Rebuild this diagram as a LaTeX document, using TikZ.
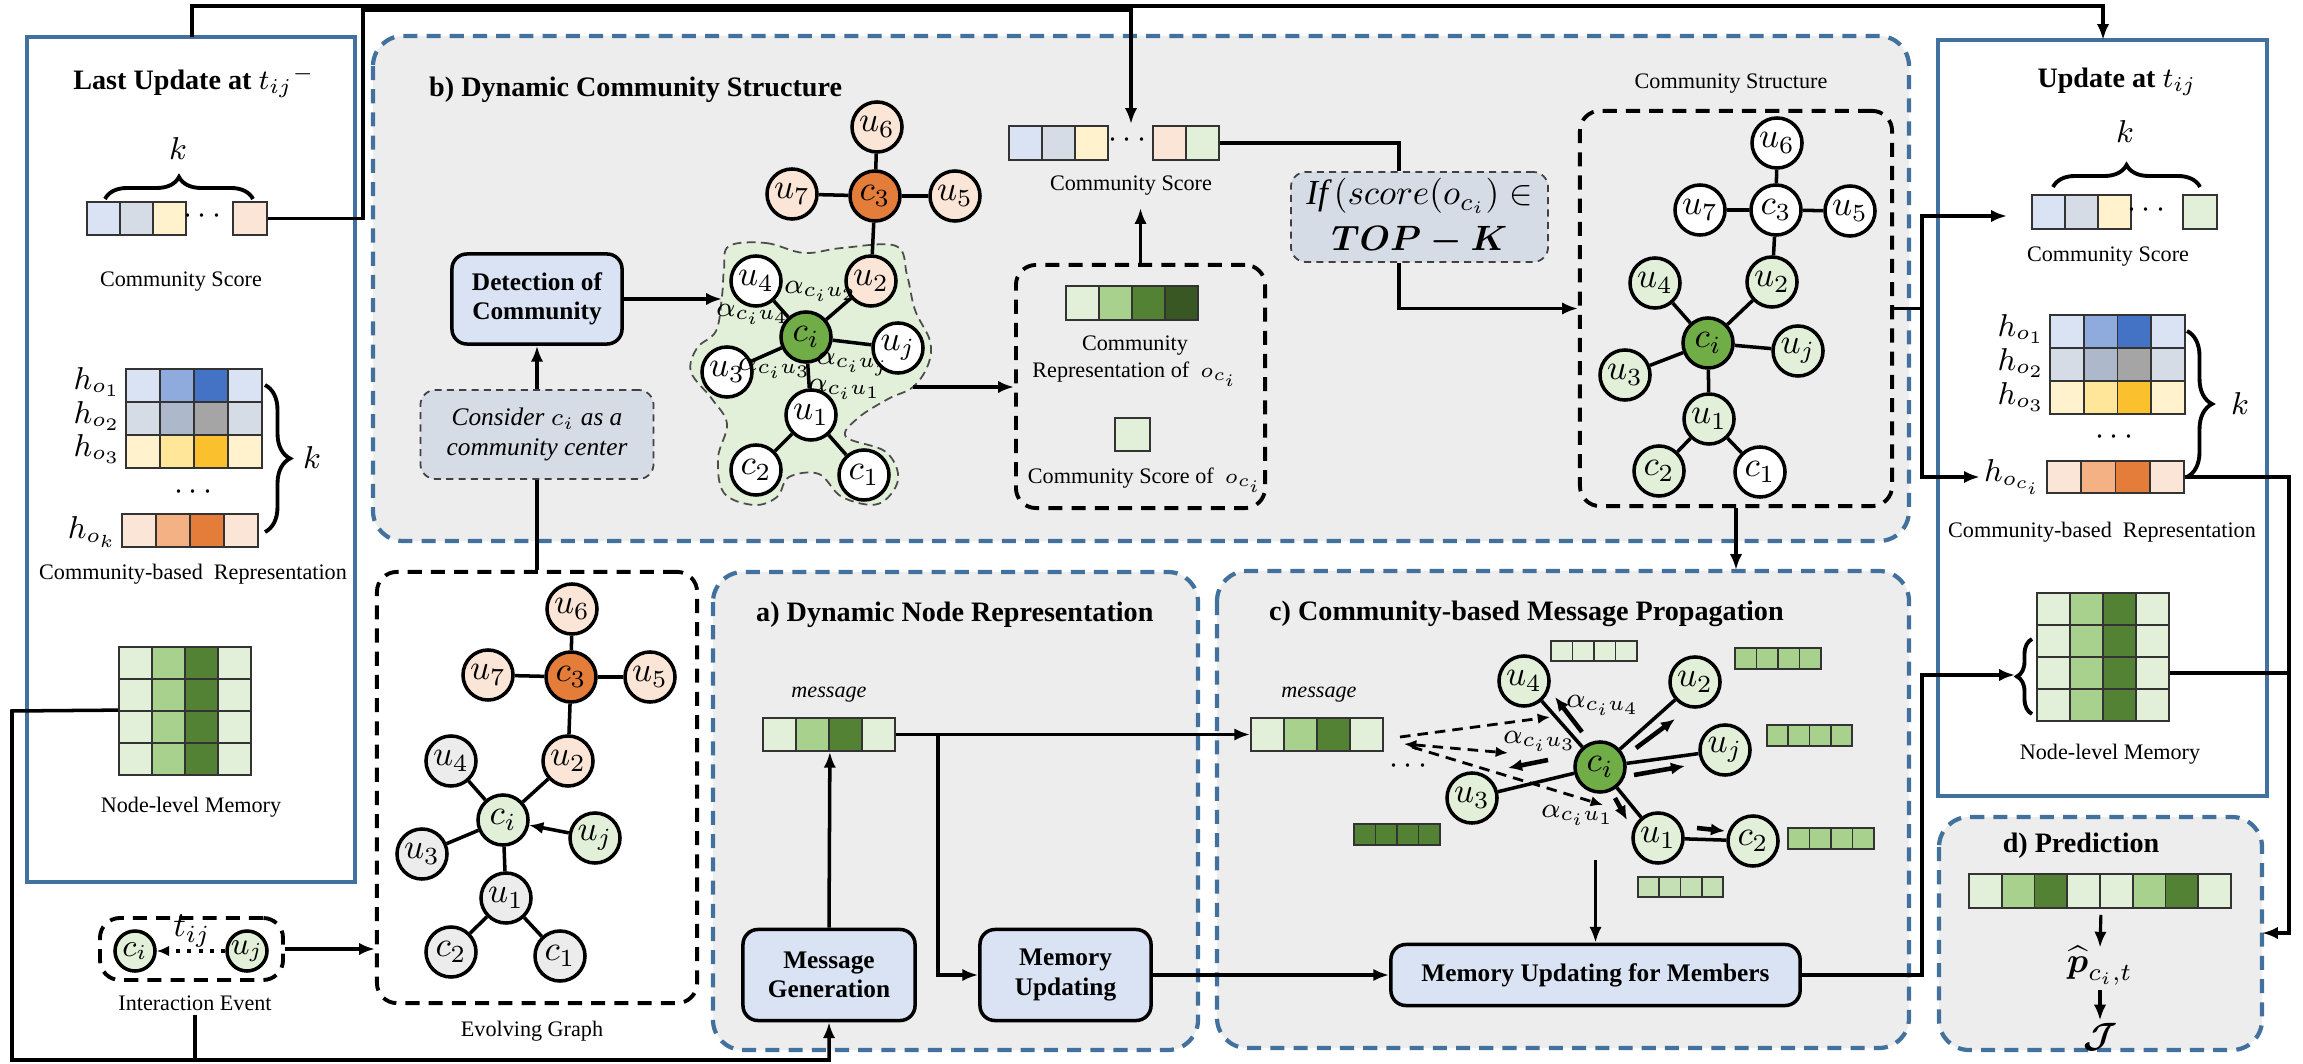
\documentclass[tikz,border=0pt]{standalone}
\usepackage{amsmath}
\usepackage{fontspec}
\setmainfont{Liberation Serif}
\usetikzlibrary{arrows.meta,decorations.pathreplacing,calc}
\pgfdeclarelayer{bg}\pgfdeclarelayer{mid}\pgfsetlayers{bg,mid,main}
\definecolor{pblue}{RGB}{65,113,156}
\definecolor{sgray}{RGB}{237,237,237}
\definecolor{lblue}{RGB}{218,227,243}
\definecolor{gblue}{RGB}{214,220,229}
\definecolor{ylw}{RGB}{255,242,204}
\definecolor{peach}{RGB}{251,229,214}
\definecolor{lgreen}{RGB}{226,240,217}
\definecolor{mgreen}{RGB}{169,209,142}
\definecolor{dgreen}{RGB}{84,130,53}
\definecolor{vdgreen}{RGB}{56,87,35}
\definecolor{blueB}{RGB}{143,170,220}
\definecolor{blueC}{RGB}{68,114,196}
\definecolor{grayB}{RGB}{173,185,202}
\definecolor{grayC}{RGB}{165,165,165}
\definecolor{ylwB}{RGB}{255,230,153}
\definecolor{ylwC}{RGB}{250,192,46}
\definecolor{orB}{RGB}{244,177,131}
\definecolor{orC}{RGB}{228,125,58}
\definecolor{cgreen}{RGB}{112,173,71}
\definecolor{ngray}{RGB}{236,236,236}
\definecolor{pgreen}{RGB}{197,224,180}
\newcommand\ttlfont{\fontsize{8}{9.6}\selectfont\bfseries}
\newcommand\lblfont{\fontsize{6.3}{7.6}\selectfont}
\newcommand\boxfont{\fontsize{7.2}{8.3}\selectfont\bfseries}
\newcommand\gnfont{\fontsize{10}{12}\selectfont}
\newcommand\alfont{\fontsize{8}{9}\selectfont}
\newcommand\hfont{\fontsize{9}{10}\selectfont}
\newcommand\cellbar[6]{\foreach \cc [count=\ii] in {#6}{\node[cell,minimum width=#4*0.01cm,minimum height=#5*0.01cm,fill=\cc] (#1-\ii) at ({#2+(\ii-0.5)*#4},{#3+0.5*#5}) {};}}
\begin{document}
\begin{tikzpicture}[x=0.01cm,y=-0.01cm,
  panel/.style={draw=pblue,line width=1.1pt,fill=white},
  sect/.style={draw=pblue,line width=1.2pt,dash pattern=on 4pt off 2.6pt,fill=sgray,rounded corners=0.3cm},
  dbox/.style={draw,line width=1.1pt,dash pattern=on 4pt off 2.6pt,rounded corners=0.2cm,inner sep=0pt},
  gbox/.style={draw=black!75,line width=0.5pt,dash pattern=on 2pt off 1.5pt,fill=gblue,rounded corners=0.15cm,align=center,inner sep=0pt},
  sbox/.style={draw,line width=1pt,fill=lblue,rounded corners=0.15cm,align=center,font=\boxfont,inner sep=0pt},
  cell/.style={draw=black!80,line width=0.5pt,inner sep=0pt},
  gn/.style={circle,draw,line width=1pt,minimum size=0.5cm,inner sep=0pt,font=\gnfont},
  edge/.style={line width=1pt},
  conn/.style={line width=1pt},
  arr/.style={conn,-{Latex[length=4.5pt,width=3.5pt]}},
  sarr/.style={line width=1.3pt,-{Latex[length=4pt,width=3.5pt]}},
  dsh/.style={line width=0.8pt,dash pattern=on 3pt off 2pt,-{Latex[length=3.5pt,width=3pt]}},
  txt/.style={inner sep=1pt,font=\lblfont},
  ttl/.style={inner sep=1pt,font=\ttlfont},
  al/.style={inner sep=0pt,font=\alfont},
  hl/.style={inner sep=1pt,font=\hfont},
  brc/.style={decorate,decoration={brace,amplitude=#1},line width=1.1pt}]
\useasboundingbox (0,0) rectangle (2303,1064);
\begin{pgfonlayer}{bg}
 \fill[white] (0,0) rectangle (2303,1064);
 \draw[panel] (27,37) rectangle (355,882);
 \draw[panel] (1938,40) rectangle (2267,796);
 \draw[sect] (373,36) rectangle (1909,541);
 \draw[sect] (713,572) rectangle (1198,1050);
 \draw[sect] (1217,571) rectangle (1909,1048);
 \draw[sect] (1939,817) rectangle (2262,1050);
\end{pgfonlayer}
\begin{pgfonlayer}{mid}
 \draw[dash pattern=on 2.5pt off 1.5pt,line width=0.5pt,draw=black!70,fill=lgreen]
  plot[smooth cycle,tension=0.6] coordinates {(729,246) (766,243) (804,253) (842,248) (896,246) (907,275) (915,310) (930,341) (928,365) (913,387) (888,399) (858,418) (846,437) (886,452) (898,480) (878,504) (842,497) (819,474) (789,477) (777,497) (754,505) (724,493) (718,458) (727,424) (712,399) (691,372) (697,348) (716,331) (722,296) (724,269)};
\end{pgfonlayer}

% ---------- left panel ----------
\node[ttl] (lttl) at (194,82) {Last Update at ${t_{ij}}^{-}$};
\node[hl] (lk1) at (178,149) {$k$};
\draw[brc=0.22cm] (105,199) -- (253,199);
\cellbar{ls}{87}{202}{33}{33}{lblue,gblue,ylw}
\node[hl] (ldots1) at (205,216) {$\cdots$};
\cellbar{lsl}{233}{202}{34}{33}{peach}
\node[txt] (lcs) at (181,282) {Community Score};
\cellbar{lh1}{126}{369}{34}{33}{lblue,blueB,blueC,lblue}
\cellbar{lh2}{126}{402}{34}{33}{gblue,grayB,grayC,gblue}
\cellbar{lh3}{126}{435}{34}{33}{ylw,ylwB,ylwC,ylw}
\node[hl] (ldots2) at (196,492) {$\cdots$};
\cellbar{lhk}{122}{514}{34}{33}{peach,orB,orC,peach}
\node[hl,anchor=east] (lhl1) at (125,382) {$h_{o_1}$};
\node[hl,anchor=east] (lhl2) at (125,416) {$h_{o_2}$};
\node[hl,anchor=east] (lhl3) at (125,449) {$h_{o_3}$};
\node[hl,anchor=east] (lhlk) at (121,532) {$h_{o_k}$};
\draw[brc=0.25cm] (265,385) -- (265,532);
\node[hl] (lk2) at (312,458) {$k$};
\node[txt] (lcbr) at (193,574) {Community-based\ \ Representation};
\cellbar{lm1}{119}{647}{33}{32}{lgreen,mgreen,dgreen,lgreen}
\cellbar{lm2}{119}{679}{33}{32}{lgreen,mgreen,dgreen,lgreen}
\cellbar{lm3}{119}{711}{33}{32}{lgreen,mgreen,dgreen,lgreen}
\cellbar{lm4}{119}{743}{33}{32}{lgreen,mgreen,dgreen,lgreen}
\node[txt] (lnlm) at (191,807) {Node-level Memory};

% ---------- interaction event ----------
\node[dbox,minimum width=1.83cm,minimum height=0.62cm] (iebox) at (191.5,949) {};
\node[gn,minimum size=0.4cm,fill=lgreen,font=\fontsize{9}{10}\selectfont] (iec) at (135,951) {$c_i$};
\node[gn,minimum size=0.4cm,fill=lgreen,font=\fontsize{9}{10}\selectfont] (ieu) at (247,951) {$u_j$};
\draw[line width=1.2pt,dotted,-{Latex[length=3.5pt,width=3pt]}] (ieu) -- (iec);
\node[inner sep=0pt,font=\gnfont] (iet) at (192,931) {$t_{ij}$};
\node[txt] (iel) at (195,1003) {Interaction Event};

% ---------- evolving graph ----------
\node[dbox,minimum width=3.2cm,minimum height=4.31cm] (evbox) at (537,787.5) {};
\node[gn,fill=peach] (eu6) at (572,609) {$u_6$};
\node[gn,fill=orC] (ec3) at (571,677) {$c_3$};
\node[gn,fill=peach] (eu7) at (488,675) {$u_7$};
\node[gn,fill=peach] (eu5) at (650,677) {$u_5$};
\node[gn,fill=peach] (eu2) at (568,761) {$u_2$};
\node[gn,fill=ngray] (eu4) at (451,761) {$u_4$};
\node[gn,fill=lgreen] (eci) at (503,820) {$c_i$};
\node[gn,fill=lgreen] (euj) at (595,838) {$u_j$};
\node[gn,fill=ngray] (eu3) at (422,854) {$u_3$};
\node[gn,fill=ngray] (eu1) at (506,898) {$u_1$};
\node[gn,fill=ngray] (ec2) at (451,952) {$c_2$};
\node[gn,fill=ngray] (ec1) at (560,956) {$c_1$};
\draw[edge] (ec3)--(eu6) (ec3)--(eu7) (ec3)--(eu5) (ec3)--(eu2) (eci)--(eu2) (eci)--(eu4) (eci)--(eu3) (eci)--(eu1) (eu1)--(ec2) (eu1)--(ec1);
\draw[edge,-{Latex[length=4pt,width=3.5pt]}] (euj)--(eci);
\node[txt] (evl) at (532,1031) {Evolving Graph};

% ---------- b) ----------
\node[ttl,anchor=west] (bttl) at (425,90) {b) Dynamic Community Structure};
\node[sbox,minimum width=1.7cm,minimum height=0.9cm] (det) at (537,299) {Detection of\\Community};
\node[gbox,minimum width=2.33cm,minimum height=0.89cm,font={\boxfont\mdseries\itshape}] (cons) at (537,434.5) {Consider $c_i$ as a\\community center};
\node[gn,fill=peach] (bu6) at (877,127) {$u_6$};
\node[gn,fill=orC] (bc3) at (875,196) {$c_3$};
\node[gn,fill=peach] (bu7) at (792,194) {$u_7$};
\node[gn,fill=peach] (bu5) at (955,196) {$u_5$};
\node[gn,fill=peach] (bu2) at (871,281) {$u_2$};
\node[gn,fill=white] (bu4) at (756,281) {$u_4$};
\node[gn,fill=cgreen] (bci) at (806,337) {$c_i$};
\node[gn,fill=white] (buj) at (898,348) {$u_j$};
\node[gn,fill=white] (bu3) at (727,372) {$u_3$};
\node[gn,fill=white] (bu1) at (811,415) {$u_1$};
\node[gn,fill=white] (bc2) at (756,470) {$c_2$};
\node[gn,fill=white] (bc1) at (864,475) {$c_1$};
\draw[edge] (bc3)--(bu6) (bc3)--(bu7) (bc3)--(bu5) (bc3)--(bu2) (bci)--(bu2) (bci)--(bu4) (bci)--(bu3) (bci)--(buj) (bci)--(bu1) (bu1)--(bc2) (bu1)--(bc1);
\node[al] (ba2) at (821,291) {$\alpha_{c_iu_2}$};
\node[al] (ba4) at (753,314) {$\alpha_{c_iu_4}$};
\node[al] (ba3) at (775,368) {$\alpha_{c_iu_3}$};
\node[al] (baj) at (853,364) {$\alpha_{c_iu_j}$};
\node[al] (ba1) at (845,389) {$\alpha_{c_iu_1}$};
\coordinate (blobL) at (722,299);
\coordinate (blobR) at (913,387);

\cellbar{bs}{1009}{126}{33}{34}{lblue,gblue,ylw}
\node[hl] (bdots) at (1130,140) {$\cdots$};
\cellbar{bsr}{1153}{126}{33}{34}{peach,lgreen}
\coordinate (bsin) at (1131,124);
\node[txt] (bcsl) at (1131,186) {Community Score};
\node[dbox,minimum width=2.49cm,minimum height=2.43cm] (crbox) at (1140.5,386.5) {};
\cellbar{crb}{1066}{286}{33}{34}{lgreen,mgreen,dgreen,vdgreen}
\node[txt,align=center] (crl) at (1135,361) {Community\\Representation of\ \ $o_{c_i}$};
\cellbar{crs}{1115}{418}{35}{33}{lgreen}
\node[txt] (crsl) at (1145,480) {Community Score of\ \ $o_{c_i}$};
\node[gbox,minimum width=2.57cm,minimum height=0.9cm,font=\gnfont] (ifb) at (1419.5,217) {$\mathit{If}\,(score(o_{c_i})\in$\\[1pt]$\boldsymbol{TOP-K}$};
\node[txt] (csl) at (1731,84) {Community Structure};
\node[dbox,minimum width=3.12cm,minimum height=3.95cm] (csbox) at (1736,308.5) {};
\node[gn,fill=white] (su6) at (1777,143) {$u_6$};
\node[gn,fill=white] (sc3) at (1776,210) {$c_3$};
\node[gn,fill=white] (su7) at (1700,210) {$u_7$};
\node[gn,fill=white] (su5) at (1850,211) {$u_5$};
\node[gn,fill=lgreen] (su2) at (1772,282) {$u_2$};
\node[gn,fill=lgreen] (su4) at (1655,283) {$u_4$};
\node[gn,fill=cgreen] (sci) at (1708,343) {$c_i$};
\node[gn,fill=lgreen] (suj) at (1798,351) {$u_j$};
\node[gn,fill=lgreen] (su3) at (1625,375) {$u_3$};
\node[gn,fill=lgreen] (su1) at (1709,419) {$u_1$};
\node[gn,fill=lgreen] (sc2) at (1659,471) {$c_2$};
\node[gn,fill=white] (sc1) at (1760,472) {$c_1$};
\draw[edge] (sc3)--(su6) (sc3)--(su7) (sc3)--(su5) (sc3)--(su2) (sci)--(su2) (sci)--(su4) (sci)--(su3) (sci)--(suj) (sci)--(su1) (su1)--(sc2) (su1)--(sc1);

% ---------- right panel ----------
\node[ttl] (rttl) at (2117,82) {Update at $t_{ij}$};
\node[hl] (rk1) at (2125,132) {$k$};
\draw[brc=0.22cm] (2053,187) -- (2200,187);
\cellbar{rs}{2032}{195}{33}{34}{lblue,gblue,ylw}
\node[hl] (rdots1) at (2149,210) {$\cdots$};
\cellbar{rsl}{2183}{195}{34}{34}{lgreen}
\coordinate (rsin) at (2007,216);
\node[txt] (rcs) at (2108,257) {Community Score};
\cellbar{rh1}{2050}{315}{33.75}{33}{lblue,blueB,blueC,lblue}
\cellbar{rh2}{2050}{348}{33.75}{33}{gblue,grayB,grayC,gblue}
\cellbar{rh3}{2050}{381}{33.75}{33}{ylw,ylwB,ylwC,ylw}
\node[hl] (rdots2) at (2117,437) {$\cdots$};
\cellbar{rhc}{2047}{461}{34.25}{32}{peach,orB,orC,peach}
\node[hl,anchor=east] (rhl1) at (2049,329) {$h_{o_1}$};
\node[hl,anchor=east] (rhl2) at (2049,363) {$h_{o_2}$};
\node[hl,anchor=east] (rhl3) at (2049,397) {$h_{o_3}$};
\node[hl,anchor=east] (rhlci) at (2046,477) {$h_{o_{c_i}}$};
\draw[brc=0.25cm] (2187,331) -- (2187,477);
\node[hl] (rk2) at (2240,404) {$k$};
\node[txt] (rcbr) at (2102,532) {Community-based\ \ Representation};
\cellbar{rm1}{2037}{593}{33}{32}{lgreen,mgreen,dgreen,lgreen}
\cellbar{rm2}{2037}{625}{33}{32}{lgreen,mgreen,dgreen,lgreen}
\cellbar{rm3}{2037}{657}{33}{32}{lgreen,mgreen,dgreen,lgreen}
\cellbar{rm4}{2037}{689}{33}{32}{lgreen,mgreen,dgreen,lgreen}
\draw[brc=0.15cm] (2032,714) -- (2032,639);
\coordinate (rmb) at (2015,675);
\node[txt] (rnlm) at (2110,754) {Node-level Memory};

% ---------- a) ----------
\node[ttl,anchor=west] (attl) at (752,615) {a) Dynamic Node Representation};
\node[txt,font=\lblfont\itshape] (amsg) at (829,695) {message};
\cellbar{am}{763}{718}{33}{33}{lgreen,mgreen,dgreen,lgreen}
\node[sbox,minimum width=1.72cm,minimum height=0.91cm] (mg) at (829,975) {Message\\Generation};
\node[sbox,minimum width=1.71cm,minimum height=0.91cm] (mu) at (1065.5,975) {Memory\\Updating};

% ---------- c) ----------
\node[ttl,anchor=west] (cttl) at (1265,614) {c) Community-based Message Propagation};
\node[txt,font=\lblfont\itshape] (cmsg) at (1319,695) {message};
\cellbar{cm}{1251}{718}{33}{33}{lgreen,mgreen,dgreen,lgreen}
\node[hl] (cdots) at (1411,766) {$\cdots$};
\cellbar{ct}{1551}{641}{21.5}{20}{lgreen,lgreen,lgreen,lgreen}
\cellbar{cb2}{1735}{648}{21.5}{21}{mgreen,mgreen,mgreen,mgreen}
\cellbar{cbj}{1767}{725}{21.25}{21}{mgreen,mgreen,mgreen,mgreen}
\cellbar{cbc}{1788}{828}{21.5}{21}{mgreen,mgreen,mgreen,mgreen}
\cellbar{cb1}{1638}{877}{21.25}{20}{pgreen,pgreen,pgreen,pgreen}
\cellbar{cbd}{1354}{824}{21.5}{21}{dgreen,dgreen,dgreen,dgreen}
\node[gn,fill=lgreen] (cu4) at (1524,681) {$u_4$};
\node[gn,fill=lgreen] (cu2) at (1695,682) {$u_2$};
\node[gn,fill=cgreen] (cci) at (1600,767) {$c_i$};
\node[gn,fill=lgreen] (cuj) at (1725,750) {$u_j$};
\node[gn,fill=lgreen] (cu3) at (1472,798) {$u_3$};
\node[gn,fill=lgreen] (cu1) at (1658,838) {$u_1$};
\node[gn,fill=lgreen] (cc2) at (1753,841) {$c_2$};
\draw[edge] (cci)--(cu4) (cci)--(cu2) (cci)--(cuj) (cci)--(cu3) (cci)--(cu1) (cu1)--(cc2);
\draw[sarr] (1582,732) -- (1555,697);
\draw[sarr] (1636,748) -- (1675,719);
\draw[sarr] (1634,775) -- (1685,766);
\draw[sarr] (1548,760) -- (1508,768);
\draw[sarr] (1615,798) -- (1627,820);
\draw[sarr] (1697,828) -- (1725,831);
\coordinate (dsA) at (1400,737);
\coordinate (dsB) at (1404,744);
\coordinate (dsC) at (1412,747);
\draw[dsh] (dsA) -- (1550,717);
\draw[dsh,{Latex[length=3.5pt,width=3pt]}-{Latex[length=3.5pt,width=3pt]}] (dsB) -- (1508,753);
\draw[dsh] (dsC) -- (1603,805);
\node[al] (ca4) at (1603,705) {$\alpha_{c_iu_4}$};
\node[al] (ca3) at (1540,741) {$\alpha_{c_iu_3}$};
\node[al] (ca1) at (1578,815) {$\alpha_{c_iu_1}$};
\node[sbox,minimum width=4.09cm,minimum height=0.61cm] (mum) at (1595.5,975) {Memory Updating for Members};
\coordinate (cdown) at (1595.5,860);

% ---------- d) ----------
\node[ttl] (dttl) at (2081,846) {d) Prediction};
\cellbar{pb}{1969}{874}{32.75}{34}{lgreen,mgreen,dgreen,lgreen,lgreen,mgreen,dgreen,lgreen}
\node[inner sep=0pt,font=\fontsize{10}{12}\selectfont] (phat) at (2100,966) {$\widehat{\boldsymbol{p}}_{c_i,t}$};
\node[inner sep=0pt,font=\fontsize{10}{12}\selectfont] (jl) at (2100,1037) {$\boldsymbol{\mathcal{J}}$};
\coordinate (drin) at (2262,933);

% ---------- connectors ----------
\coordinate (lptop) at (192,37);
\coordinate (rptop) at (2103,40);
\draw[arr] (lptop) |- (2103,6) -- (rptop);
\draw[arr] (lsl-1.east) -| (363,10) -| (bsin);
\draw[arr] (lm3-1.north west) -- (12,711) -- (12,1060) -| (mg.south);
\coordinate (bline) at (195,1060);
\draw[conn] (iel.south) -- (bline);
\draw[arr] (iebox.east) -- (iebox.east -| evbox.west);
\draw[conn] (evbox.north) -- (cons.south);
\draw[arr] (cons.north) -- (det.south);
\draw[arr] (det.east) -- (blobL);
\draw[arr] (blobR) -- (crbox.west |- blobR);
\draw[arr] (crbox.north) -- ++(0,-55);
\draw[conn] (bsr-2.east) -| ($(ifb.north)+(-20.5,0)$);
\draw[arr] ($(ifb.south)+(-20.5,0)$) |- (csbox.west);
\coordinate (ctop) at (1736,570);
\draw[arr] (csbox.south) -- (ctop);
\coordinate (csj) at (1922,308.5);
\draw[conn] (csbox.east) -- (csj);
\draw[arr] (csj) |- (rsin);
\draw[arr] (csj) |- (rhlci.west);
\draw[arr] (rhc-4.east) -| (2289,933) -- (drin);
\draw[conn] (rm3-4.east) -- (2289,673);
\draw[arr] (mum.east) -| (1922,675) -- (rmb);
\draw[arr] (mg.north) -- (am-2.south east);
\draw[arr] (am-4.east) -- (cm-1.west);
\coordinate (abr) at (938,734.5);
\draw[arr] (abr) |- (mu.west);
\draw[arr] (mu.east) -- (mum.west);
\draw[arr] (cdown) -- (mum.north);
\draw[arr,line width=0.9pt] ($(pb-4.south east)+(0,6)$) -- ($(phat.north)+(0,2)$);
\draw[arr,line width=0.9pt] ($(phat.south)+(0,4)$) -- ($(jl.north)+(0,-2)$);
\end{tikzpicture}
\end{document}
